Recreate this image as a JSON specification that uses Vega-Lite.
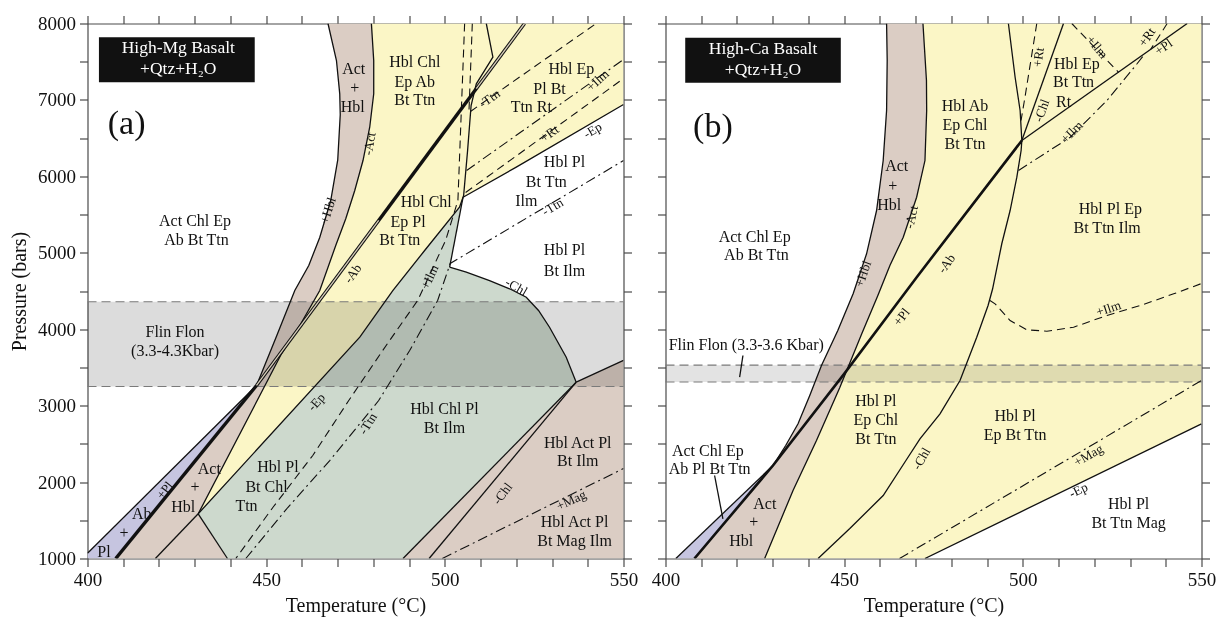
{
"$schema": "https://vega.github.io/schema/vega-lite/v6.json",
"background": "white",
"padding": {"left": 9.5, "top": 14.5, "right": 5, "bottom": 5},
"spacing": 12,
"config": {
  "font": "Liberation Serif",
  "view": {"stroke": null},
  "axis": {"domainColor": "#4a4a4a", "tickColor": "#4a4a4a", "domainWidth": 1.2, "tickWidth": 1.2, "tickSize": 8, "labelFont": "Liberation Serif", "labelFontSize": 19, "labelColor": "#111", "titleFont": "Liberation Serif", "titleFontSize": 20, "titleFontWeight": "normal", "titleColor": "#111", "grid": false, "labelFlush": false, "labelOverlap": false, "labelPadding": 4, "zindex": 1},
  "text": {"font": "Liberation Serif", "color": "#111"}
},
"datasets": {
"a_poly": [
{"r":"Act+Hbl","i":1,"T":467.3,"P":8000},{"r":"Act+Hbl","i":2,"T":469.67,"P":7516},{"r":"Act+Hbl","i":3,"T":470.59,"P":7080},{"r":"Act+Hbl","i":4,"T":470.73,"P":6805},{"r":"Act+Hbl","i":5,"T":470.03,"P":6216},{"r":"Act+Hbl","i":6,"T":468.07,"P":5684},{"r":"Act+Hbl","i":7,"T":464.99,"P":5200},{"r":"Act+Hbl","i":8,"T":461.92,"P":4834},{"r":"Act+Hbl","i":9,"T":458.01,"P":4507},{"r":"Act+Hbl","i":10,"T":452.98,"P":3918},{"r":"Act+Hbl","i":11,"T":447.3,"P":3264},{"r":"Act+Hbl","i":12,"T":407.9,"P":1000},{"r":"Act+Hbl","i":13,"T":439.16,"P":1000},{"r":"Act+Hbl","i":14,"T":430.98,"P":1585},{"r":"Act+Hbl","i":15,"T":454.29,"P":3678},{"r":"Act+Hbl","i":16,"T":459.41,"P":4049},{"r":"Act+Hbl","i":17,"T":465.0,"P":4507},{"r":"Act+Hbl","i":18,"T":469.47,"P":5095},{"r":"Act+Hbl","i":19,"T":472.27,"P":5445},{"r":"Act+Hbl","i":20,"T":474.79,"P":5815},{"r":"Act+Hbl","i":21,"T":477.1,"P":6207},{"r":"Act+Hbl","i":22,"T":478.98,"P":6643},{"r":"Act+Hbl","i":23,"T":480.1,"P":7080},{"r":"Act+Hbl","i":24,"T":480.1,"P":7516},{"r":"Act+Hbl","i":25,"T":479.45,"P":8000},
{"r":"Ab+Pl","i":1,"T":447.3,"P":3264},{"r":"Ab+Pl","i":2,"T":400,"P":1068},{"r":"Ab+Pl","i":3,"T":400,"P":1000},{"r":"Ab+Pl","i":4,"T":407.9,"P":1000},
{"r":"Hbl+Chl+Ep","i":1,"T":479.45,"P":8000},{"r":"Hbl+Chl+Ep","i":2,"T":480.1,"P":7516},{"r":"Hbl+Chl+Ep","i":3,"T":480.1,"P":7080},{"r":"Hbl+Chl+Ep","i":4,"T":478.98,"P":6643},{"r":"Hbl+Chl+Ep","i":5,"T":477.1,"P":6207},{"r":"Hbl+Chl+Ep","i":6,"T":474.79,"P":5815},{"r":"Hbl+Chl+Ep","i":7,"T":472.27,"P":5445},{"r":"Hbl+Chl+Ep","i":8,"T":469.47,"P":5095},{"r":"Hbl+Chl+Ep","i":9,"T":465.0,"P":4507},{"r":"Hbl+Chl+Ep","i":10,"T":459.41,"P":4049},{"r":"Hbl+Chl+Ep","i":11,"T":454.29,"P":3678},{"r":"Hbl+Chl+Ep","i":12,"T":430.98,"P":1585},{"r":"Hbl+Chl+Ep","i":13,"T":476.2,"P":3896},{"r":"Hbl+Chl+Ep","i":14,"T":485.49,"P":4507},{"r":"Hbl+Chl+Ep","i":15,"T":494.35,"P":5030},{"r":"Hbl+Chl+Ep","i":16,"T":504.1,"P":5596},{"r":"Hbl+Chl+Ep","i":17,"T":505.1,"P":5727},{"r":"Hbl+Chl+Ep","i":18,"T":520.0,"P":6120},{"r":"Hbl+Chl+Ep","i":19,"T":550,"P":6940},{"r":"Hbl+Chl+Ep","i":20,"T":550,"P":8000},
{"r":"Hbl+Chl+Pl","i":1,"T":430.98,"P":1585},{"r":"Hbl+Chl+Pl","i":2,"T":476.2,"P":3896},{"r":"Hbl+Chl+Pl","i":3,"T":485.49,"P":4507},{"r":"Hbl+Chl+Pl","i":4,"T":494.35,"P":5030},{"r":"Hbl+Chl+Pl","i":5,"T":504.1,"P":5596},{"r":"Hbl+Chl+Pl","i":6,"T":505.1,"P":5727},{"r":"Hbl+Chl+Pl","i":7,"T":501.34,"P":4811},{"r":"Hbl+Chl+Pl","i":8,"T":506.01,"P":4746},{"r":"Hbl+Chl+Pl","i":9,"T":512.52,"P":4637},{"r":"Hbl+Chl+Pl","i":10,"T":518.12,"P":4529},{"r":"Hbl+Chl+Pl","i":11,"T":522.79,"P":4419},{"r":"Hbl+Chl+Pl","i":12,"T":526.22,"P":4245},{"r":"Hbl+Chl+Pl","i":13,"T":529.3,"P":4026},{"r":"Hbl+Chl+Pl","i":14,"T":533.97,"P":3634},{"r":"Hbl+Chl+Pl","i":15,"T":536.76,"P":3307},{"r":"Hbl+Chl+Pl","i":16,"T":488.3,"P":1000},{"r":"Hbl+Chl+Pl","i":17,"T":439.16,"P":1000},
{"r":"Hbl+Act+Pl","i":1,"T":536.76,"P":3307},{"r":"Hbl+Act+Pl","i":2,"T":550,"P":3593},{"r":"Hbl+Act+Pl","i":3,"T":550,"P":1000},{"r":"Hbl+Act+Pl","i":4,"T":488.3,"P":1000}
],
"a_solid": [
{"id":"hbl","i":1,"T":467.3,"P":8000},{"id":"hbl","i":2,"T":469.67,"P":7516},{"id":"hbl","i":3,"T":470.59,"P":7080},{"id":"hbl","i":4,"T":470.73,"P":6805},{"id":"hbl","i":5,"T":470.03,"P":6216},{"id":"hbl","i":6,"T":468.07,"P":5684},{"id":"hbl","i":7,"T":464.99,"P":5200},{"id":"hbl","i":8,"T":461.92,"P":4834},{"id":"hbl","i":9,"T":458.01,"P":4507},{"id":"hbl","i":10,"T":452.98,"P":3918},{"id":"hbl","i":11,"T":447.3,"P":3264},
{"id":"act","i":1,"T":479.45,"P":8000},{"id":"act","i":2,"T":480.1,"P":7516},{"id":"act","i":3,"T":480.1,"P":7080},{"id":"act","i":4,"T":478.98,"P":6643},{"id":"act","i":5,"T":477.1,"P":6207},{"id":"act","i":6,"T":474.79,"P":5815},{"id":"act","i":7,"T":472.27,"P":5445},{"id":"act","i":8,"T":469.47,"P":5095},{"id":"act","i":9,"T":465.0,"P":4507},{"id":"act","i":10,"T":459.41,"P":4049},{"id":"act","i":11,"T":454.29,"P":3678},{"id":"act","i":12,"T":430.98,"P":1585},
{"id":"pl","i":1,"T":447.3,"P":3264},{"id":"pl","i":2,"T":400,"P":1068},
{"id":"ep1","i":1,"T":430.98,"P":1585},{"id":"ep1","i":2,"T":476.2,"P":3896},{"id":"ep1","i":3,"T":485.49,"P":4507},{"id":"ep1","i":4,"T":494.35,"P":5030},{"id":"ep1","i":5,"T":504.1,"P":5596},{"id":"ep1","i":6,"T":505.1,"P":5727},
{"id":"ep2","i":1,"T":505.1,"P":5727},{"id":"ep2","i":2,"T":520.0,"P":6120},{"id":"ep2","i":3,"T":550,"P":6940},
{"id":"gw","i":1,"T":505.1,"P":5727},{"id":"gw","i":2,"T":501.34,"P":4811},
{"id":"arc","i":1,"T":501.34,"P":4811},{"id":"arc","i":2,"T":506.01,"P":4746},{"id":"arc","i":3,"T":512.52,"P":4637},{"id":"arc","i":4,"T":518.12,"P":4529},{"id":"arc","i":5,"T":522.79,"P":4419},{"id":"arc","i":6,"T":526.22,"P":4245},{"id":"arc","i":7,"T":529.3,"P":4026},{"id":"arc","i":8,"T":533.97,"P":3634},{"id":"arc","i":9,"T":536.76,"P":3307},
{"id":"br","i":1,"T":536.76,"P":3307},{"id":"br","i":2,"T":550,"P":3593},
{"id":"gb","i":1,"T":536.76,"P":3307},{"id":"gb","i":2,"T":488.3,"P":1000},
{"id":"chl1","i":1,"T":536.76,"P":3307},{"id":"chl1","i":2,"T":495.6,"P":1000},
{"id":"l12","i":1,"T":430.98,"P":1585},{"id":"l12","i":2,"T":419.0,"P":1000},
{"id":"l13","i":1,"T":430.98,"P":1585},{"id":"l13","i":2,"T":439.16,"P":1000},
{"id":"chl2","i":1,"T":511.6,"P":8000},{"id":"chl2","i":2,"T":513.45,"P":7559},{"id":"chl2","i":3,"T":508.81,"P":7211},{"id":"chl2","i":4,"T":507.35,"P":6927},{"id":"chl2","i":5,"T":506.37,"P":6338},{"id":"chl2","i":6,"T":505.26,"P":5749},{"id":"chl2","i":7,"T":505.1,"P":5727}
],
"a_thick": [
{"id":"ab","i":1,"T":447.3,"P":3264},{"id":"ab","i":2,"T":522.3,"P":8000},
{"id":"abl","i":1,"T":447.3,"P":3264},{"id":"abl","i":2,"T":407.9,"P":1000}
],
"a_inner": [
{"id":"s1","i":1,"T":447.3,"P":3264},{"id":"s1","i":2,"T":481.5,"P":5424},
{"id":"s2","i":1,"T":508.8,"P":7148},{"id":"s2","i":2,"T":522.3,"P":8000}
],
"a_dash": [
{"id":"ilm","i":1,"T":505.54,"P":8000},{"id":"ilm","i":2,"T":503.66,"P":5684},{"id":"ilm","i":3,"T":500.22,"P":5161},{"id":"ilm","i":4,"T":492.4,"P":4376},{"id":"ilm","i":5,"T":482.61,"P":3722},{"id":"ilm","i":6,"T":473.11,"P":3067},{"id":"ilm","i":7,"T":463.04,"P":2348},{"id":"ilm","i":8,"T":451.86,"P":1667},{"id":"ilm","i":9,"T":441.5,"P":1000},
{"id":"ttn","i":1,"T":507.69,"P":8000},{"id":"ttn","i":2,"T":506.74,"P":6835},{"id":"ttn","i":3,"T":542.35,"P":8000},
{"id":"rt","i":1,"T":505.82,"P":5789},{"id":"rt","i":2,"T":550,"P":7280}
],
"a_dashdot": [
{"id":"ttn2","i":1,"T":444.3,"P":1000},{"id":"ttn2","i":2,"T":456.05,"P":1667},{"id":"ttn2","i":3,"T":467.79,"P":2282},{"id":"ttn2","i":4,"T":481.49,"P":3067},{"id":"ttn2","i":5,"T":490.16,"P":3721},{"id":"ttn2","i":6,"T":497.99,"P":4376},{"id":"ttn2","i":7,"T":501.5,"P":4860},{"id":"ttn2","i":8,"T":550,"P":6207},
{"id":"ilm2","i":1,"T":506.1,"P":6077},{"id":"ilm2","i":2,"T":550,"P":7529},
{"id":"mag","i":1,"T":499.3,"P":1000},{"id":"mag","i":2,"T":550,"P":2178}
],
"a_lab": [
{"T":430.1,"P":5422,"text":"Act Chl Ep"},{"T":430.5,"P":5169,"text":"Ab Bt Ttn"},
{"T":424.5,"P":3961,"text":"Flin Flon"},{"T":424.5,"P":3712,"text":"(3.3-4.3Kbar)"},
{"T":491.6,"P":7494,"text":"Hbl Chl"},{"T":491.6,"P":7233,"text":"Ep Ab"},{"T":491.6,"P":6993,"text":"Bt Ttn"},
{"T":474.5,"P":7407,"text":"Act"},{"T":474.8,"P":7158,"text":"+"},{"T":474.2,"P":6905,"text":"Hbl"},
{"T":494.8,"P":5662,"text":"Hbl Chl"},{"T":489.7,"P":5400,"text":"Ep Pl"},{"T":487.4,"P":5161,"text":"Bt Ttn"},
{"T":535.4,"P":7407,"text":"Hbl Ep"},{"T":529.3,"P":7145,"text":"Pl Bt"},{"T":524.2,"P":6905,"text":"Ttn Rt"},
{"T":533.5,"P":6185,"text":"Hbl Pl"},{"T":528.4,"P":5923,"text":"Bt Ttn"},{"T":522.8,"P":5684,"text":"Ilm"},
{"T":533.5,"P":5030,"text":"Hbl Pl"},{"T":533.5,"P":4768,"text":"Bt Ilm"},
{"T":499.9,"P":2959,"text":"Hbl Chl Pl"},{"T":499.9,"P":2710,"text":"Bt Ilm"},
{"T":537.2,"P":2509,"text":"Hbl Act Pl"},{"T":537.2,"P":2273,"text":"Bt Ilm"},
{"T":536.3,"P":1475,"text":"Hbl Act Pl"},{"T":536.3,"P":1226,"text":"Bt Mag Ilm"},
{"T":453.3,"P":2194,"text":"Hbl Pl"},{"T":450.1,"P":1942,"text":"Bt Chl"},{"T":444.5,"P":1693,"text":"Ttn"},
{"T":434.1,"P":2173,"text":"Act"},{"T":430.1,"P":1933,"text":"+"},{"T":426.8,"P":1671,"text":"Hbl"},
{"T":415.2,"P":1576,"text":"Ab"},{"T":410.2,"P":1331,"text":"+"},{"T":404.6,"P":1082,"text":"Pl"}
],
"b_poly": [
{"r":"Act+Hbl","i":1,"T":461.87,"P":8000},{"r":"Act+Hbl","i":2,"T":462.04,"P":7516},{"r":"Act+Hbl","i":3,"T":461.87,"P":6862},{"r":"Act+Hbl","i":4,"T":460.92,"P":6207},{"r":"Act+Hbl","i":5,"T":459.07,"P":5553},{"r":"Act+Hbl","i":6,"T":456.27,"P":4987},{"r":"Act+Hbl","i":7,"T":452.51,"P":4463},{"r":"Act+Hbl","i":8,"T":448.22,"P":3983},{"r":"Act+Hbl","i":9,"T":443.65,"P":3525},{"r":"Act+Hbl","i":10,"T":440.37,"P":3133},{"r":"Act+Hbl","i":11,"T":437.09,"P":2762},{"r":"Act+Hbl","i":12,"T":433.64,"P":2478},{"r":"Act+Hbl","i":13,"T":430.08,"P":2217},{"r":"Act+Hbl","i":14,"T":408.1,"P":1000},{"r":"Act+Hbl","i":15,"T":427.75,"P":1000},{"r":"Act+Hbl","i":16,"T":435.69,"P":1890},{"r":"Act+Hbl","i":17,"T":442.25,"P":2544},{"r":"Act+Hbl","i":18,"T":448.78,"P":3237},{"r":"Act+Hbl","i":19,"T":454.95,"P":3944},{"r":"Act+Hbl","i":20,"T":459.43,"P":4441},{"r":"Act+Hbl","i":21,"T":462.8,"P":4834},{"r":"Act+Hbl","i":22,"T":466.53,"P":5204},{"r":"Act+Hbl","i":23,"T":470.28,"P":5727},{"r":"Act+Hbl","i":24,"T":472.61,"P":6207},{"r":"Act+Hbl","i":25,"T":473.09,"P":6862},{"r":"Act+Hbl","i":26,"T":473.03,"P":7254},{"r":"Act+Hbl","i":27,"T":472.05,"P":8000},
{"r":"Ab+Pl","i":1,"T":430.08,"P":2217},{"r":"Ab+Pl","i":2,"T":402.9,"P":1000},{"r":"Ab+Pl","i":3,"T":408.1,"P":1000},
{"r":"Hbl+Chl+Ep","i":1,"T":472.05,"P":8000},{"r":"Hbl+Chl+Ep","i":2,"T":473.03,"P":7254},{"r":"Hbl+Chl+Ep","i":3,"T":473.09,"P":6862},{"r":"Hbl+Chl+Ep","i":4,"T":472.61,"P":6207},{"r":"Hbl+Chl+Ep","i":5,"T":470.28,"P":5727},{"r":"Hbl+Chl+Ep","i":6,"T":466.53,"P":5204},{"r":"Hbl+Chl+Ep","i":7,"T":462.8,"P":4834},{"r":"Hbl+Chl+Ep","i":8,"T":459.43,"P":4441},{"r":"Hbl+Chl+Ep","i":9,"T":454.95,"P":3944},{"r":"Hbl+Chl+Ep","i":10,"T":448.78,"P":3237},{"r":"Hbl+Chl+Ep","i":11,"T":442.25,"P":2544},{"r":"Hbl+Chl+Ep","i":12,"T":435.69,"P":1890},{"r":"Hbl+Chl+Ep","i":13,"T":427.75,"P":1000},{"r":"Hbl+Chl+Ep","i":14,"T":472.6,"P":1000},{"r":"Hbl+Chl+Ep","i":15,"T":550,"P":2762},{"r":"Hbl+Chl+Ep","i":16,"T":550,"P":8000}
],
"b_solid": [
{"id":"hbl","i":1,"T":461.87,"P":8000},{"id":"hbl","i":2,"T":462.04,"P":7516},{"id":"hbl","i":3,"T":461.87,"P":6862},{"id":"hbl","i":4,"T":460.92,"P":6207},{"id":"hbl","i":5,"T":459.07,"P":5553},{"id":"hbl","i":6,"T":456.27,"P":4987},{"id":"hbl","i":7,"T":452.51,"P":4463},{"id":"hbl","i":8,"T":448.22,"P":3983},{"id":"hbl","i":9,"T":443.65,"P":3525},{"id":"hbl","i":10,"T":440.37,"P":3133},{"id":"hbl","i":11,"T":437.09,"P":2762},{"id":"hbl","i":12,"T":433.64,"P":2478},{"id":"hbl","i":13,"T":430.08,"P":2217},
{"id":"act","i":1,"T":472.05,"P":8000},{"id":"act","i":2,"T":473.03,"P":7254},{"id":"act","i":3,"T":473.09,"P":6862},{"id":"act","i":4,"T":472.61,"P":6207},{"id":"act","i":5,"T":470.28,"P":5727},{"id":"act","i":6,"T":466.53,"P":5204},{"id":"act","i":7,"T":462.8,"P":4834},{"id":"act","i":8,"T":459.43,"P":4441},{"id":"act","i":9,"T":454.95,"P":3944},{"id":"act","i":10,"T":448.78,"P":3237},{"id":"act","i":11,"T":442.25,"P":2544},{"id":"act","i":12,"T":435.69,"P":1890},{"id":"act","i":13,"T":427.75,"P":1000},
{"id":"pl","i":1,"T":430.08,"P":2217},{"id":"pl","i":2,"T":402.9,"P":1000},
{"id":"ep","i":1,"T":472.6,"P":1000},{"id":"ep","i":2,"T":550,"P":2762},
{"id":"chl","i":1,"T":442.7,"P":1000},{"id":"chl","i":2,"T":451.58,"P":1392},{"id":"chl","i":3,"T":460.92,"P":1824},{"id":"chl","i":4,"T":467.28,"P":2282},{"id":"chl","i":5,"T":471.21,"P":2566},{"id":"chl","i":6,"T":476.82,"P":2893},{"id":"chl","i":7,"T":482.42,"P":3329},{"id":"chl","i":8,"T":487.1,"P":3896},{"id":"chl","i":9,"T":490.27,"P":4310},{"id":"chl","i":10,"T":491.53,"P":4526},{"id":"chl","i":11,"T":494.11,"P":5118},{"id":"chl","i":12,"T":496.44,"P":5553},{"id":"chl","i":13,"T":498.32,"P":5989},{"id":"chl","i":14,"T":499.52,"P":6338},{"id":"chl","i":15,"T":499.72,"P":6469},{"id":"chl","i":16,"T":499.24,"P":6862},{"id":"chl","i":17,"T":497.84,"P":7297},{"id":"chl","i":18,"T":495.96,"P":8000},
{"id":"chl2","i":1,"T":499.72,"P":6469},{"id":"chl2","i":2,"T":511.38,"P":8000},
{"id":"plu","i":1,"T":499.72,"P":6469},{"id":"plu","i":2,"T":546.0,"P":8000},
{"id":"ptr1","i":1,"T":421.67,"P":3656},{"id":"ptr1","i":2,"T":420.75,"P":3372},
{"id":"ptr2","i":1,"T":413.74,"P":2086},{"id":"ptr2","i":2,"T":416.06,"P":1519}
],
"b_thick": [
{"id":"ab","i":1,"T":408.1,"P":1000},{"id":"ab","i":2,"T":430.08,"P":2217},{"id":"ab","i":3,"T":450.0,"P":3416},{"id":"ab","i":4,"T":470.3,"P":4681},{"id":"ab","i":5,"T":499.72,"P":6469}
],
"b_dash": [
{"id":"rt1","i":1,"T":503.9,"P":8000},{"id":"rt1","i":2,"T":500.6,"P":7036},{"id":"rt1","i":3,"T":499.5,"P":6731},
{"id":"ilmt","i":1,"T":513.7,"P":8000},{"id":"ilmt","i":2,"T":526.8,"P":7361},
{"id":"rt2","i":1,"T":540.4,"P":8000},{"id":"rt2","i":2,"T":535.7,"P":7656},
{"id":"ilml","i":1,"T":490.8,"P":4376},{"id":"ilml","i":2,"T":492.23,"P":4332},{"id":"ilml","i":3,"T":496.44,"P":4114},{"id":"ilml","i":4,"T":501.12,"P":3992},{"id":"ilml","i":5,"T":506.73,"P":3974},{"id":"ilml","i":6,"T":514.19,"P":4026},{"id":"ilml","i":7,"T":523.55,"P":4180},{"id":"ilml","i":8,"T":532.88,"P":4310},{"id":"ilml","i":9,"T":542.22,"P":4463},{"id":"ilml","i":10,"T":550,"P":4598}
],
"b_dashdot": [
{"id":"ilm","i":1,"T":498.8,"P":6077},{"id":"ilm","i":2,"T":513.26,"P":6512},{"id":"ilm","i":3,"T":523.55,"P":6993},{"id":"ilm","i":4,"T":531.96,"P":7473},{"id":"ilm","i":5,"T":534.0,"P":7595},
{"id":"mag","i":1,"T":465.5,"P":1000},{"id":"mag","i":2,"T":550,"P":3329}
],
"b_lab": [
{"T":424.95,"P":5213,"text":"Act Chl Ep"},{"T":425.43,"P":4974,"text":"Ab Bt Ttn"},
{"T":483.82,"P":6926,"text":"Hbl Ab"},{"T":483.82,"P":6674,"text":"Ep Chl"},{"T":483.82,"P":6426,"text":"Bt Ttn"},
{"T":515.1,"P":7472,"text":"Hbl Ep"},{"T":514.2,"P":7233,"text":"Bt Ttn"},{"T":511.4,"P":6979,"text":"Rt"},
{"T":524.5,"P":5575,"text":"Hbl Pl Ep"},{"T":523.6,"P":5327,"text":"Bt Ttn Ilm"},
{"T":458.87,"P":3067,"text":"Hbl Pl"},{"T":458.87,"P":2815,"text":"Ep Chl"},{"T":458.87,"P":2566,"text":"Bt Ttn"},
{"T":497.84,"P":2858,"text":"Hbl Pl"},{"T":497.84,"P":2618,"text":"Ep Bt Ttn"},
{"T":529.6,"P":1716,"text":"Hbl Pl"},{"T":529.6,"P":1467,"text":"Bt Ttn Mag"},
{"T":464.7,"P":6142,"text":"Act"},{"T":463.6,"P":5880,"text":"+"},{"T":462.6,"P":5628,"text":"Hbl"},
{"T":427.8,"P":1716,"text":"Act"},{"T":424.7,"P":1475,"text":"+"},{"T":421.2,"P":1235,"text":"Hbl"},
{"T":411.86,"P":2413,"text":"Act Chl Ep"},{"T":412.34,"P":2174,"text":"Ab Pl Bt Ttn"},
{"T":422.6,"P":3787,"text":"Flin Flon (3.3-3.6 Kbar)"}
]
},
"hconcat": [
{
"width": 536, "height": 535,
"encoding": {
  "x": {"field": "T", "type": "quantitative", "scale": {"domain": [400, 550], "nice": false, "zero": false}, "axis": null},
  "y": {"field": "P", "type": "quantitative", "scale": {"domain": [1000, 8000], "nice": false, "zero": false}, "axis": null}
},
"layer": [
  {"data": {"name": "a_poly"}, "mark": {"type": "line", "strokeWidth": 0, "clip": true},
   "encoding": {
     "x": {"field": "T", "type": "quantitative", "scale": {"domain": [400, 550], "nice": false, "zero": false}, "axis": {"orient": "bottom", "values": [400,410,420,430,440,450,460,470,480,490,500,510,520,530,540,550], "labelExpr": "datum.value % 50 === 0 ? datum.label : ''", "format": "d", "title": "Temperature (°C)", "titlePadding": 6}},
     "y": {"field": "P", "type": "quantitative", "scale": {"domain": [1000, 8000], "nice": false, "zero": false}, "axis": {"orient": "left", "values": [1000,1500,2000,2500,3000,3500,4000,4500,5000,5500,6000,6500,7000,7500,8000], "labelExpr": "datum.value % 1000 === 0 ? datum.label : ''", "format": "d", "title": "Pressure (bars)", "titlePadding": 8}},
     "fill": {"field": "r", "type": "nominal", "scale": {"domain": ["Act+Hbl", "Ab+Pl", "Hbl+Chl+Ep", "Hbl+Chl+Pl", "Hbl+Act+Pl"], "range": ["#dbcdc4", "#c6c5e0", "#fbf6c6", "#cdd9cd", "#dbcdc4"]}, "legend": null},
     "detail": {"field": "r"},
     "order": {"field": "i", "type": "quantitative"}
   }},
  {"data": {"values": [{"T": 400, "T2": 550, "P": 3250, "P2": 4360}]}, "mark": {"type": "rect", "fill": "#dcdcdc", "blend": "multiply"},
   "encoding": {"x2": {"field": "T2"}, "y2": {"field": "P2"}}},
  {"data": {"values": [{"T": 400, "T2": 550, "P": 3250}, {"T": 400, "T2": 550, "P": 4360}]}, "mark": {"type": "rule", "stroke": "#7a7a7a", "strokeDash": [9, 5], "strokeWidth": 1.1},
   "encoding": {"x2": {"field": "T2"}}},
  {"data": {"name": "a_solid"}, "mark": {"type": "line", "stroke": "#111", "strokeWidth": 1.3, "clip": true},
   "encoding": {"detail": {"field": "id"}, "order": {"field": "i", "type": "quantitative"}}},
  {"data": {"name": "a_thick"}, "mark": {"type": "line", "stroke": "#111", "strokeWidth": 3.4, "clip": true},
   "encoding": {"detail": {"field": "id"}, "order": {"field": "i", "type": "quantitative"}}},
  {"data": {"name": "a_inner"}, "mark": {"type": "line", "stroke": "#d8cfbb", "strokeWidth": 1.3, "clip": true},
   "encoding": {"detail": {"field": "id"}, "order": {"field": "i", "type": "quantitative"}}},
  {"data": {"name": "a_dash"}, "mark": {"type": "line", "stroke": "#111", "strokeWidth": 1.1, "strokeDash": [8, 5], "clip": true},
   "encoding": {"detail": {"field": "id"}, "order": {"field": "i", "type": "quantitative"}}},
  {"data": {"name": "a_dashdot"}, "mark": {"type": "line", "stroke": "#111", "strokeWidth": 1.1, "strokeDash": [10, 4, 2, 4], "clip": true},
   "encoding": {"detail": {"field": "id"}, "order": {"field": "i", "type": "quantitative"}}},
  {"data": {"values": [{"T": 403.2, "T2": 446.8, "P": 7821, "P2": 7232}]}, "mark": {"type": "rect", "fill": "#111"},
   "encoding": {"x2": {"field": "T2"}, "y2": {"field": "P2"}}},
  {"data": {"values": [{"T": 425.4, "P": 7682, "text": "High-Mg Basalt"}, {"T": 425.4, "P": 7407, "text": "+Qtz+H₂O"}]}, "mark": {"type": "text", "color": "white", "fontSize": 17.5},
   "encoding": {"text": {"field": "text"}}},
  {"data": {"values": [{"T": 410.96, "P": 6688, "text": "(a)"}]}, "mark": {"type": "text", "fontSize": 34},
   "encoding": {"text": {"field": "text"}}},
  {"data": {"name": "a_lab"}, "mark": {"type": "text", "fontSize": 16},
   "encoding": {
     "x": {"field": "T", "type": "quantitative", "scale": {"domain": [400, 550], "nice": false, "zero": false}, "axis": {"orient": "top", "values": [400,410,420,430,440,450,460,470,480,490,500,510,520,530,540,550], "labels": false, "title": null}},
     "y": {"field": "P", "type": "quantitative", "scale": {"domain": [1000, 8000], "nice": false, "zero": false}, "axis": {"orient": "right", "values": [1000,1500,2000,2500,3000,3500,4000,4500,5000,5500,6000,6500,7000,7500,8000], "labels": false, "title": null}},
     "text": {"field": "text"}
   }},
  {"data": {"values": [{"T": 467.32, "P": 5553, "text": "+Hbl"}]}, "mark": {"type": "text", "fontSize": 13, "angle": -72}, "encoding": {"text": {"field": "text"}}},
  {"data": {"values": [{"T": 478.98, "P": 6426, "text": "-Act"}]}, "mark": {"type": "text", "fontSize": 13, "angle": -80}, "encoding": {"text": {"field": "text"}}},
  {"data": {"values": [{"T": 474.3, "P": 4725, "text": "-Ab"}]}, "mark": {"type": "text", "fontSize": 13, "angle": -54}, "encoding": {"text": {"field": "text"}}},
  {"data": {"values": [{"T": 421.7, "P": 1890, "text": "+Pl"}]}, "mark": {"type": "text", "fontSize": 13, "angle": -52}, "encoding": {"text": {"field": "text"}}},
  {"data": {"values": [{"T": 464.1, "P": 3045, "text": "-Ep"}]}, "mark": {"type": "text", "fontSize": 13, "angle": -48}, "encoding": {"text": {"field": "text"}}},
  {"data": {"values": [{"T": 495.8, "P": 4681, "text": "+Ilm"}]}, "mark": {"type": "text", "fontSize": 13, "angle": -65}, "encoding": {"text": {"field": "text"}}},
  {"data": {"values": [{"T": 478.5, "P": 2762, "text": "-Ttn"}]}, "mark": {"type": "text", "fontSize": 13, "angle": -58}, "encoding": {"text": {"field": "text"}}},
  {"data": {"values": [{"T": 520.0, "P": 4550, "text": "-Chl"}]}, "mark": {"type": "text", "fontSize": 13, "angle": 30}, "encoding": {"text": {"field": "text"}}},
  {"data": {"values": [{"T": 516.2, "P": 1847, "text": "-Chl"}]}, "mark": {"type": "text", "fontSize": 13, "angle": -53}, "encoding": {"text": {"field": "text"}}},
  {"data": {"values": [{"T": 535.4, "P": 1759, "text": "+Mag"}]}, "mark": {"type": "text", "fontSize": 13, "angle": -25}, "encoding": {"text": {"field": "text"}}},
  {"data": {"values": [{"T": 541.4, "P": 6600, "text": "-Ep"}]}, "mark": {"type": "text", "fontSize": 13, "angle": -30}, "encoding": {"text": {"field": "text"}}},
  {"data": {"values": [{"T": 530.2, "P": 5597, "text": "-Ttn"}]}, "mark": {"type": "text", "fontSize": 13, "angle": -31}, "encoding": {"text": {"field": "text"}}},
  {"data": {"values": [{"T": 529.3, "P": 6557, "text": "+Rt"}]}, "mark": {"type": "text", "fontSize": 13, "angle": -36}, "encoding": {"text": {"field": "text"}}},
  {"data": {"values": [{"T": 542.8, "P": 7254, "text": "+Ilm"}]}, "mark": {"type": "text", "fontSize": 13, "angle": -42}, "encoding": {"text": {"field": "text"}}},
  {"data": {"values": [{"T": 512.5, "P": 7015, "text": "-Ttn"}]}, "mark": {"type": "text", "fontSize": 13, "angle": -35}, "encoding": {"text": {"field": "text"}}}
],
"resolve": {"axis": {"x": "independent", "y": "independent"}}
},
{
"width": 536, "height": 535,
"encoding": {
  "x": {"field": "T", "type": "quantitative", "scale": {"domain": [400, 550], "nice": false, "zero": false}, "axis": null},
  "y": {"field": "P", "type": "quantitative", "scale": {"domain": [1000, 8000], "nice": false, "zero": false}, "axis": null}
},
"layer": [
  {"data": {"name": "b_poly"}, "mark": {"type": "line", "strokeWidth": 0, "clip": true},
   "encoding": {
     "x": {"field": "T", "type": "quantitative", "scale": {"domain": [400, 550], "nice": false, "zero": false}, "axis": {"orient": "bottom", "values": [400,410,420,430,440,450,460,470,480,490,500,510,520,530,540,550], "labelExpr": "datum.value % 50 === 0 ? datum.label : ''", "format": "d", "title": "Temperature (°C)", "titlePadding": 6}},
     "y": {"field": "P", "type": "quantitative", "scale": {"domain": [1000, 8000], "nice": false, "zero": false}, "axis": {"orient": "left", "values": [1000,1500,2000,2500,3000,3500,4000,4500,5000,5500,6000,6500,7000,7500,8000], "labels": false, "title": null}},
     "fill": {"field": "r", "type": "nominal", "scale": {"domain": ["Act+Hbl", "Ab+Pl", "Hbl+Chl+Ep", "Hbl+Chl+Pl", "Hbl+Act+Pl"], "range": ["#dbcdc4", "#c6c5e0", "#fbf6c6", "#cdd9cd", "#dbcdc4"]}, "legend": null},
     "detail": {"field": "r"},
     "order": {"field": "i", "type": "quantitative"}
   }},
  {"data": {"values": [{"T": 400, "T2": 550, "P": 3310, "P2": 3530}]}, "mark": {"type": "rect", "fill": "#e3e3e3", "blend": "multiply"},
   "encoding": {"x2": {"field": "T2"}, "y2": {"field": "P2"}}},
  {"data": {"values": [{"T": 400, "T2": 550, "P": 3310}, {"T": 400, "T2": 550, "P": 3530}]}, "mark": {"type": "rule", "stroke": "#7a7a7a", "strokeDash": [9, 5], "strokeWidth": 1.1},
   "encoding": {"x2": {"field": "T2"}}},
  {"data": {"name": "b_solid"}, "mark": {"type": "line", "stroke": "#111", "strokeWidth": 1.3, "clip": true},
   "encoding": {"detail": {"field": "id"}, "order": {"field": "i", "type": "quantitative"}}},
  {"data": {"name": "b_thick"}, "mark": {"type": "line", "stroke": "#111", "strokeWidth": 2.6, "clip": true},
   "encoding": {"detail": {"field": "id"}, "order": {"field": "i", "type": "quantitative"}}},
  {"data": {"name": "b_dash"}, "mark": {"type": "line", "stroke": "#111", "strokeWidth": 1.1, "strokeDash": [8, 5], "clip": true},
   "encoding": {"detail": {"field": "id"}, "order": {"field": "i", "type": "quantitative"}}},
  {"data": {"name": "b_dashdot"}, "mark": {"type": "line", "stroke": "#111", "strokeWidth": 1.1, "strokeDash": [10, 4, 2, 4], "clip": true},
   "encoding": {"detail": {"field": "id"}, "order": {"field": "i", "type": "quantitative"}}},
  {"data": {"values": [{"T": 405.52, "T2": 449.06, "P": 7813, "P2": 7224}]}, "mark": {"type": "rect", "fill": "#111"},
   "encoding": {"x2": {"field": "T2"}, "y2": {"field": "P2"}}},
  {"data": {"values": [{"T": 427.3, "P": 7669, "text": "High-Ca Basalt"}, {"T": 427.3, "P": 7394, "text": "+Qtz+H₂O"}]}, "mark": {"type": "text", "color": "white", "fontSize": 17.5},
   "encoding": {"text": {"field": "text"}}},
  {"data": {"values": [{"T": 413.26, "P": 6643, "text": "(b)"}]}, "mark": {"type": "text", "fontSize": 34},
   "encoding": {"text": {"field": "text"}}},
  {"data": {"name": "b_lab"}, "mark": {"type": "text", "fontSize": 16},
   "encoding": {
     "x": {"field": "T", "type": "quantitative", "scale": {"domain": [400, 550], "nice": false, "zero": false}, "axis": {"orient": "top", "values": [400,410,420,430,440,450,460,470,480,490,500,510,520,530,540,550], "labels": false, "title": null}},
     "y": {"field": "P", "type": "quantitative", "scale": {"domain": [1000, 8000], "nice": false, "zero": false}, "axis": {"orient": "right", "values": [1000,1500,2000,2500,3000,3500,4000,4500,5000,5500,6000,6500,7000,7500,8000], "labels": false, "title": null}},
     "text": {"field": "text"}
   }},
  {"data": {"values": [{"T": 455.33, "P": 4725, "text": "+Hbl"}]}, "mark": {"type": "text", "fontSize": 13, "angle": -70}, "encoding": {"text": {"field": "text"}}},
  {"data": {"values": [{"T": 468.88, "P": 5466, "text": "-Act"}]}, "mark": {"type": "text", "fontSize": 13, "angle": -77}, "encoding": {"text": {"field": "text"}}},
  {"data": {"values": [{"T": 478.69, "P": 4856, "text": "-Ab"}]}, "mark": {"type": "text", "fontSize": 13, "angle": -54}, "encoding": {"text": {"field": "text"}}},
  {"data": {"values": [{"T": 466.08, "P": 4157, "text": "+Pl"}]}, "mark": {"type": "text", "fontSize": 13, "angle": -52}, "encoding": {"text": {"field": "text"}}},
  {"data": {"values": [{"T": 539.42, "P": 7690, "text": "+Pl"}]}, "mark": {"type": "text", "fontSize": 13, "angle": -35}, "encoding": {"text": {"field": "text"}}},
  {"data": {"values": [{"T": 471.68, "P": 2304, "text": "-Chl"}]}, "mark": {"type": "text", "fontSize": 13, "angle": -60}, "encoding": {"text": {"field": "text"}}},
  {"data": {"values": [{"T": 505.33, "P": 6862, "text": "-Chl"}]}, "mark": {"type": "text", "fontSize": 13, "angle": -70}, "encoding": {"text": {"field": "text"}}},
  {"data": {"values": [{"T": 504.4, "P": 7559, "text": "+Rt"}]}, "mark": {"type": "text", "fontSize": 13, "angle": -82}, "encoding": {"text": {"field": "text"}}},
  {"data": {"values": [{"T": 513.73, "P": 6578, "text": "+Ilm"}]}, "mark": {"type": "text", "fontSize": 13, "angle": -45}, "encoding": {"text": {"field": "text"}}},
  {"data": {"values": [{"T": 520.74, "P": 7690, "text": "+Ilm"}]}, "mark": {"type": "text", "fontSize": 13, "angle": 50}, "encoding": {"text": {"field": "text"}}},
  {"data": {"values": [{"T": 534.76, "P": 7821, "text": "+Rt"}]}, "mark": {"type": "text", "fontSize": 13, "angle": -55}, "encoding": {"text": {"field": "text"}}},
  {"data": {"values": [{"T": 524.0, "P": 4267, "text": "+Ilm"}]}, "mark": {"type": "text", "fontSize": 13, "angle": -18}, "encoding": {"text": {"field": "text"}}},
  {"data": {"values": [{"T": 518.39, "P": 2348, "text": "+Mag"}]}, "mark": {"type": "text", "fontSize": 13, "angle": -30}, "encoding": {"text": {"field": "text"}}},
  {"data": {"values": [{"T": 515.59, "P": 1890, "text": "-Ep"}]}, "mark": {"type": "text", "fontSize": 13, "angle": -26}, "encoding": {"text": {"field": "text"}}}
],
"resolve": {"axis": {"x": "independent", "y": "independent"}}
}
]
}
